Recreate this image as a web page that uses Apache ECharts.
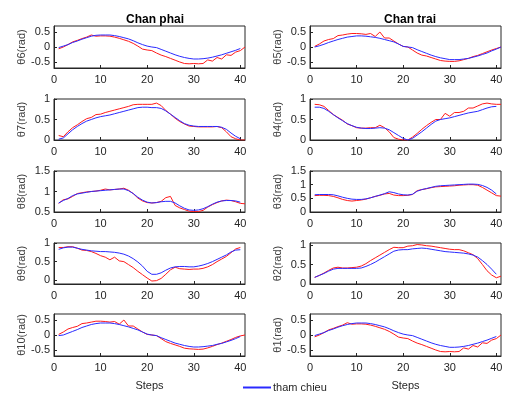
<!DOCTYPE html>
<html>
<head>
<meta charset="utf-8">
<script src="https://cdn.jsdelivr.net/npm/echarts@6/dist/echarts.min.js"></script>
<style>
  html, body { margin: 0; padding: 0; background: #ffffff; }
  #chart { width: 507px; height: 394px; }
</style>
</head>
<body>
<div id="chart"></div>
<script>
// Chan phai (cot trai) / Chan trai (cot phai)
const xTicks = [0, 10, 20, 30, 40];

// theta6
const t6Ref = [-0.02,0.03,0.08,0.15,0.2,0.26,0.31,0.36,0.39,0.4,0.4,0.4,0.38,0.35,0.31,0.27,0.21,0.14,0.08,0.03,0.0,-0.02,-0.08,-0.14,-0.2,-0.26,-0.31,-0.35,-0.38,-0.4,-0.4,-0.39,-0.37,-0.34,-0.3,-0.26,-0.21,-0.16,-0.11,-0.05];
const t6Act = [-0.06,0.0,0.08,0.17,0.22,0.28,0.33,0.4,0.36,0.37,0.37,0.36,0.33,0.29,0.24,0.19,0.12,0.03,-0.07,-0.1,-0.12,-0.2,-0.27,-0.32,-0.38,-0.44,-0.5,-0.55,-0.56,-0.55,-0.56,-0.55,-0.43,-0.47,-0.35,-0.4,-0.26,-0.28,-0.17,-0.12,0.0];
// theta5
const t5Ref = [0.0,0.04,0.09,0.15,0.2,0.25,0.29,0.33,0.35,0.37,0.37,0.36,0.34,0.32,0.29,0.25,0.21,0.17,0.1,0.02,0.0,-0.02,-0.09,-0.15,-0.21,-0.27,-0.32,-0.36,-0.39,-0.42,-0.42,-0.42,-0.4,-0.38,-0.34,-0.3,-0.25,-0.2,-0.13,-0.07,0.0];
const t5Act = [0.02,0.1,0.2,0.25,0.28,0.38,0.4,0.43,0.45,0.45,0.44,0.42,0.45,0.35,0.5,0.3,0.3,0.2,0.1,0.02,0.0,-0.1,-0.2,-0.27,-0.3,-0.35,-0.4,-0.45,-0.47,-0.48,-0.48,-0.46,-0.42,-0.38,-0.32,-0.28,-0.22,-0.16,-0.1,-0.05,0.0];
// theta7
const t7Ref = [0.02,0.05,0.15,0.25,0.33,0.4,0.46,0.5,0.54,0.57,0.59,0.61,0.64,0.67,0.7,0.73,0.76,0.79,0.8,0.8,0.79,0.79,0.77,0.71,0.63,0.55,0.47,0.4,0.36,0.34,0.33,0.33,0.33,0.33,0.33,0.31,0.26,0.17,0.09,0.03];
const t7Act = [0.11,0.08,0.2,0.3,0.37,0.45,0.52,0.55,0.62,0.63,0.67,0.7,0.73,0.76,0.79,0.82,0.86,0.87,0.87,0.87,0.87,0.9,0.84,0.72,0.63,0.53,0.45,0.39,0.34,0.33,0.32,0.32,0.32,0.32,0.33,0.3,0.2,0.08,0.03,0.0,0.0];
// theta4
const t4Ref = [0.8,0.8,0.77,0.7,0.62,0.54,0.47,0.4,0.35,0.31,0.29,0.28,0.28,0.29,0.3,0.29,0.25,0.18,0.11,0.04,0.0,0.04,0.12,0.2,0.29,0.38,0.46,0.5,0.52,0.54,0.57,0.6,0.63,0.66,0.68,0.7,0.74,0.78,0.81,0.82];
const t4Act = [0.87,0.86,0.82,0.72,0.62,0.55,0.48,0.39,0.35,0.3,0.29,0.29,0.3,0.3,0.36,0.3,0.2,0.06,0.02,0.0,0.0,0.07,0.16,0.26,0.35,0.43,0.5,0.5,0.65,0.58,0.67,0.67,0.7,0.78,0.78,0.83,0.88,0.9,0.88,0.87,0.87];
// theta8
const t8Ref = [0.72,0.78,0.83,0.9,0.94,0.96,0.98,1.0,1.01,1.02,1.03,1.04,1.05,1.06,1.06,1.02,0.95,0.86,0.79,0.74,0.72,0.73,0.75,0.76,0.76,0.72,0.65,0.59,0.55,0.54,0.55,0.58,0.63,0.69,0.74,0.77,0.78,0.78,0.77,0.74];
const t8Act = [0.71,0.8,0.82,0.88,0.95,0.97,0.99,1.0,1.01,1.03,1.06,1.04,1.05,1.06,1.08,1.03,0.95,0.84,0.77,0.73,0.72,0.73,0.76,0.85,0.88,0.66,0.6,0.56,0.52,0.51,0.51,0.54,0.62,0.68,0.73,0.77,0.79,0.78,0.75,0.71,0.7];
// theta3
const t3Ref = [0.63,0.64,0.64,0.64,0.63,0.59,0.54,0.5,0.47,0.46,0.46,0.48,0.52,0.57,0.62,0.67,0.74,0.71,0.66,0.63,0.62,0.65,0.76,0.82,0.86,0.9,0.94,0.96,0.97,0.98,0.99,1.0,1.01,1.02,1.02,1.01,0.97,0.9,0.8,0.66];
const t3Act = [0.6,0.61,0.61,0.6,0.57,0.52,0.46,0.42,0.4,0.42,0.44,0.47,0.52,0.57,0.61,0.66,0.68,0.62,0.6,0.6,0.61,0.64,0.78,0.82,0.85,0.89,0.92,0.93,0.94,0.95,0.96,0.98,0.99,1.0,1.0,0.98,0.9,0.8,0.7,0.6,0.58];
// theta9
const t9Ref = [0.83,0.87,0.89,0.89,0.86,0.83,0.81,0.79,0.78,0.77,0.77,0.76,0.75,0.73,0.7,0.65,0.58,0.49,0.38,0.24,0.16,0.16,0.2,0.27,0.33,0.36,0.37,0.37,0.36,0.36,0.38,0.41,0.45,0.5,0.56,0.62,0.68,0.76,0.81,0.82];
const t9Act = [0.88,0.88,0.9,0.9,0.86,0.81,0.8,0.77,0.72,0.66,0.62,0.55,0.62,0.52,0.5,0.42,0.34,0.24,0.15,0.06,-0.02,-0.01,0.05,0.16,0.28,0.35,0.31,0.3,0.29,0.3,0.3,0.32,0.36,0.42,0.5,0.57,0.64,0.74,0.84,0.88];
// theta2
const t2Ref = [0.17,0.22,0.27,0.33,0.38,0.4,0.4,0.4,0.4,0.4,0.41,0.45,0.5,0.56,0.63,0.7,0.77,0.84,0.87,0.88,0.88,0.9,0.91,0.92,0.91,0.89,0.87,0.85,0.83,0.82,0.81,0.8,0.79,0.77,0.74,0.69,0.6,0.5,0.38,0.25];
const t2Act = [0.17,0.22,0.28,0.35,0.41,0.43,0.41,0.41,0.42,0.43,0.46,0.52,0.6,0.67,0.74,0.81,0.88,0.94,0.93,0.93,0.97,0.98,1.01,1.0,0.98,0.97,0.95,0.93,0.91,0.89,0.88,0.88,0.85,0.8,0.75,0.65,0.5,0.34,0.23,0.16,0.2];
// theta10
const t10Ref = [-0.02,0.0,0.06,0.12,0.18,0.25,0.3,0.35,0.38,0.4,0.4,0.4,0.38,0.35,0.31,0.27,0.22,0.17,0.1,0.03,0.0,-0.02,-0.09,-0.15,-0.21,-0.27,-0.31,-0.35,-0.38,-0.4,-0.4,-0.39,-0.37,-0.35,-0.31,-0.28,-0.23,-0.18,-0.12,-0.05];
const t10Act = [0.02,0.1,0.2,0.25,0.29,0.38,0.4,0.43,0.46,0.46,0.45,0.43,0.45,0.36,0.5,0.3,0.3,0.2,0.1,0.02,0.0,-0.02,-0.12,-0.22,-0.28,-0.33,-0.38,-0.44,-0.46,-0.47,-0.48,-0.47,-0.43,-0.38,-0.32,-0.27,-0.21,-0.15,-0.08,-0.03,0.0];
// theta1
const t1Ref = [-0.02,0.03,0.08,0.15,0.2,0.26,0.31,0.35,0.38,0.4,0.4,0.4,0.38,0.35,0.31,0.27,0.21,0.14,0.08,0.03,0.0,-0.02,-0.08,-0.14,-0.2,-0.26,-0.31,-0.35,-0.38,-0.41,-0.41,-0.4,-0.38,-0.35,-0.31,-0.27,-0.22,-0.17,-0.11,-0.05];
const t1Act = [-0.06,0.0,0.08,0.17,0.22,0.28,0.33,0.41,0.36,0.37,0.37,0.36,0.33,0.29,0.24,0.19,0.12,0.03,-0.07,-0.1,-0.12,-0.2,-0.27,-0.32,-0.38,-0.44,-0.5,-0.55,-0.56,-0.55,-0.56,-0.55,-0.43,-0.47,-0.35,-0.4,-0.26,-0.28,-0.17,-0.12,0.0];

const yNames = ['\u03b86(rad)', '\u03b85(rad)', '\u03b87(rad)', '\u03b84(rad)', '\u03b88(rad)', '\u03b83(rad)', '\u03b89(rad)', '\u03b82(rad)', '\u03b810(rad)', '\u03b81(rad)'];
const refSets = [t6Ref, t5Ref, t7Ref, t4Ref, t8Ref, t3Ref, t9Ref, t2Ref, t10Ref, t1Ref];
const actSets = [t6Act, t5Act, t7Act, t4Act, t8Act, t3Act, t9Act, t2Act, t10Act, t1Act];
const yMins = [-0.7, -0.7, 0, 0, 0.5, 0, -0.1, 0, -0.7, -0.7];
const yMaxs = [0.7, 0.7, 1, 1, 1.5, 1.5, 1, 1.05, 0.7, 0.7];
const yTicks = [
  [-0.5, 0, 0.5], [-0.5, 0, 0.5],
  [0, 0.5, 1], [0, 0.5, 1],
  [0.5, 1, 1.5], [0, 0.5, 1, 1.5],
  [0, 0.5, 1], [0, 0.5, 1],
  [-0.5, 0, 0.5], [-0.5, 0, 0.5]
];

const colLeft = [54, 310];
const rowTop = [26, 99, 171, 243, 314];
const rowH = [42, 41, 41, 41, 42];
const textColor = '#262626';
const font = 'Liberation Sans, Arial, sans-serif';

const toPairs = arr => arr.map((v, i) => [i + 1, v]);

const grids = [], xAxes = [], yAxes = [], series = [];
for (let i = 0; i < 10; i++) {
  const row = Math.floor(i / 2), col = i % 2;
  grids.push({
    left: colLeft[col], top: rowTop[row], width: 191, height: rowH[row],
    show: true, borderColor: textColor, borderWidth: 1, backgroundColor: '#fff'
  });
  xAxes.push({
    type: 'value', gridIndex: i, min: 0, max: 41,
    name: row === 4 ? 'Steps' : '', nameLocation: 'middle', nameGap: 24,
    nameTextStyle: { color: textColor, fontSize: 11, fontFamily: font },
    axisLine: { onZero: false, lineStyle: { color: textColor, width: 1 } },
    axisTick: { inside: true, length: 3, lineStyle: { color: textColor }, customValues: xTicks },
    axisLabel: { color: textColor, fontSize: 11, fontFamily: font, margin: 6, customValues: xTicks },
    splitLine: { show: false }
  });
  yAxes.push({
    type: 'value', gridIndex: i, min: yMins[i], max: yMaxs[i],
    name: yNames[i], nameLocation: 'middle', nameGap: 27, nameRotate: 90,
    nameTextStyle: { color: '#404040', fontSize: 11, fontFamily: font },
    axisLine: { onZero: false, lineStyle: { color: textColor, width: 1 } },
    axisTick: { inside: true, length: 3, lineStyle: { color: textColor }, customValues: yTicks[i] },
    axisLabel: { color: textColor, fontSize: 11, fontFamily: font, margin: 4, customValues: yTicks[i] },
    splitLine: { show: false }
  });
  series.push({
    name: 'tham chieu', type: 'line', xAxisIndex: i, yAxisIndex: i,
    data: toPairs(refSets[i]), showSymbol: false, symbol: 'none',
    lineStyle: { color: '#2a2aff', width: 1 }, itemStyle: { color: '#2a2aff' },
    animation: false, z: 3
  });
  series.push({
    name: 'thuc te', type: 'line', xAxisIndex: i, yAxisIndex: i,
    data: toPairs(actSets[i]), showSymbol: false, symbol: 'none',
    lineStyle: { color: '#ff1a1a', width: 1 }, itemStyle: { color: '#ff1a1a' },
    animation: false, z: 2
  });
}

const myChart = echarts.init(document.getElementById('chart'), null, { renderer: 'canvas' });
myChart.setOption({
  animation: false,
  backgroundColor: '#ffffff',
  title: [
    { text: 'Chan phai', left: 150, top: 9, textAlign: 'center',
      textStyle: { fontSize: 12, fontWeight: 'bold', color: '#000', fontFamily: font } },
    { text: 'Chan trai', left: 405, top: 9, textAlign: 'center',
      textStyle: { fontSize: 12, fontWeight: 'bold', color: '#000', fontFamily: font } }
  ],
  legend: {
    data: ['tham chieu'], left: 238, top: 377,
    itemWidth: 28, itemHeight: 2, itemGap: 4, icon: 'rect',
    textStyle: { color: textColor, fontSize: 11, fontFamily: font, padding: [0, 0, 0, -3] }
  },
  grid: grids,
  xAxis: xAxes,
  yAxis: yAxes,
  series: series
});
</script>
</body>
</html>
